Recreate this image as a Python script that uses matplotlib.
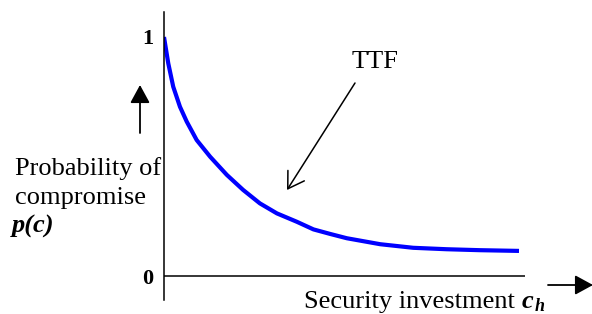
import matplotlib
matplotlib.use("Agg")
import matplotlib.pyplot as plt

# curve (investment in arbitrary units, probability 0..1)
invest = [0, 0.12, 0.26, 0.45, 0.64, 0.92, 1.30, 1.77, 2.23, 2.70, 3.18,
          3.74, 4.21, 4.68, 5.15, 6.09, 7.02, 7.96, 8.90, 10.0]
prob = [1.0, 0.89, 0.792, 0.708, 0.646, 0.569, 0.499, 0.423, 0.360, 0.304, 0.262,
        0.227, 0.195, 0.176, 0.158, 0.133, 0.118, 0.112, 0.108, 0.105]
ytick_vals = [0, 1]
ytick_labels = ["0", "1"]

W, H = 592, 314
plt.rcParams['font.family'] = ['Liberation Serif', 'DejaVu Serif']

fig = plt.figure(figsize=(W / 100, H / 100), dpi=100)

def fx(x):
    return x / W

def fy(y):
    return 1 - y / H

# axes box in pixels: left 164, right 525, top 12, bottom 300
ax = fig.add_axes([fx(164), fy(300), (525 - 164) / W, (300 - 12) / H])
ax.set_xlim(0, 361 / 35.5)
ax.set_ylim(-24 / 239, 1 + 25 / 239)

ax.plot(invest, prob, color='#0000ff', lw=3, solid_capstyle='butt',
        solid_joinstyle='round')
ax.axhline(0, color='black', lw=1.1)

for s in ['top', 'right', 'bottom']:
    ax.spines[s].set_visible(False)
ax.spines['left'].set_linewidth(1.1)
ax.set_xticks([])
ax.set_yticks(ytick_vals, ytick_labels, fontsize=16, fontweight='bold')
ax.tick_params(axis='y', length=0, pad=8)

# arrows
arr = dict(arrowstyle='-|>,head_length=0.55,head_width=0.3', color='black',
           lw=1.3, mutation_scale=20, shrinkA=0, shrinkB=0)
ax.annotate('', xy=(fx(140), fy(85)), xytext=(fx(140), fy(133)),
            xycoords='figure fraction', arrowprops=arr)
ax.annotate('', xy=(fx(593), fy(285)), xytext=(fx(548), fy(285)),
            xycoords='figure fraction', arrowprops=arr)
ax.annotate('', xy=(fx(287), fy(190)), xytext=(fx(355), fy(83)),
            xycoords='figure fraction',
            arrowprops=dict(arrowstyle='->,head_length=0.56,head_width=0.35',
                            color='black', lw=1.1, mutation_scale=20,
                            shrinkA=0, shrinkB=0))

# texts
fig.text(fx(15), fy(175), 'Probability of', fontsize=19, va='baseline')
fig.text(fx(15), fy(204), 'compromise', fontsize=19, va='baseline')
fig.text(fx(12), fy(233), 'p(c)', fontsize=19, va='baseline',
         fontweight='bold', fontstyle='italic')
fig.text(fx(352), fy(68), 'TTF', fontsize=19, va='baseline')
fig.text(fx(304), fy(308), 'Security investment', fontsize=19, va='baseline')
fig.text(fx(522), fy(308), 'c', fontsize=19, va='baseline',
         fontweight='bold', fontstyle='italic')
fig.text(fx(535), fy(311), 'h', fontsize=13, va='baseline',
         fontweight='bold', fontstyle='italic')

fig.savefig('out.png', dpi=100)
